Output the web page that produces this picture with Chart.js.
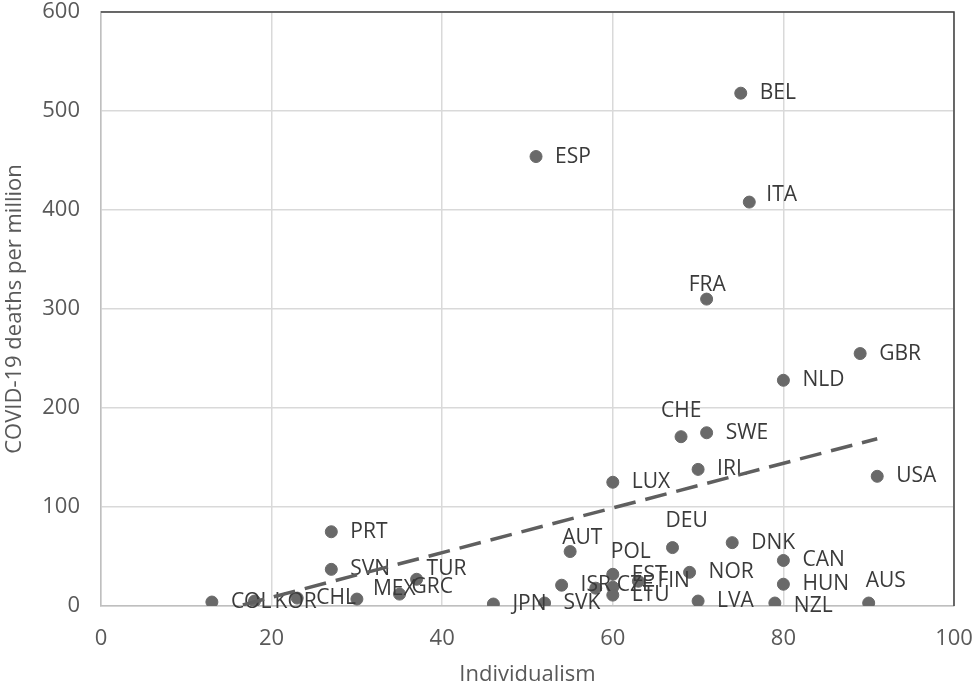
<!DOCTYPE html>
<html>
<head>
<meta charset="utf-8">
<script src="https://cdn.jsdelivr.net/npm/chart.js@4"></script>
<style>
  html, body { margin: 0; padding: 0; background: #fff; }
  #wrap { width: 976px; height: 687px; }
</style>
</head>
<body>
<div id="wrap"><canvas id="chart" width="976" height="687"></canvas></div>
<script>
// Datos
const countries = ['COL', 'KOR', 'CHL', 'MEX', 'GRC', 'TUR', 'PRT', 'SVN', 'JPN', 'SVK',
  'ISR', 'AUT', 'POL', 'CZE', 'EST', 'LTU', 'FIN', 'NOR', 'DEU', 'DNK',
  'CAN', 'HUN', 'LVA', 'NZL', 'AUS', 'BEL', 'ESP', 'ITA', 'FRA', 'GBR',
  'NLD', 'CHE', 'SWE', 'IRL', 'LUX', 'USA'];
const individualism = [13, 18, 23, 30, 35, 37, 27, 27, 46, 52,
  54, 55, 60, 58, 60, 60, 63, 69, 67, 74,
  80, 80, 70, 79, 90, 75, 51, 76, 71, 89,
  80, 68, 71, 70, 60, 91];
const deaths = [4, 5, 8, 7, 12, 27, 75, 37, 2, 3,
  21, 55, 32, 18, 19, 11, 25, 34, 59, 64,
  46, 22, 5, 3, 3, 518, 454, 408, 310, 255,
  228, 171, 175, 138, 125, 131];

// Linea de tendencia (extremos)
const trendX = [13, 91];
const trendY = [-7, 169];

const xTicks = [0, 20, 40, 60, 80, 100];
const yTicks = [0, 100, 200, 300, 400, 500, 600];

// Desplazamiento de cada etiqueta respecto al punto (px)
const labelOffset = {
  ITA: [17, -7], FRA: [-18, -14], CHE: [-20, -26], TUR: [10, -10],
  MEX: [16, -10], GRC: [12, -7], KOR: [20, 1], AUT: [-8, -14],
  POL: [-2, -22], DEU: [-7, -27], AUS: [-3, -22], EST: [19, -12],
  CZE: [21, -3], NZL: [19, 3]
};

const FONT = '"Open Sans", "DejaVu Sans", sans-serif';
const SCATTER = 1;

const labelPlugin = {
  id: 'pointLabels',
  afterDatasetDraw(chart, args) {
    if (args.index !== SCATTER) return;
    const ctx = chart.ctx;
    const meta = chart.getDatasetMeta(SCATTER);
    ctx.save();
    ctx.font = '21px ' + FONT;
    ctx.fillStyle = '#3a3a3a';
    ctx.textAlign = 'left';
    ctx.textBaseline = 'middle';
    meta.data.forEach((pt, i) => {
      const off = labelOffset[countries[i]] || [19, 0];
      ctx.fillText(countries[i], pt.x + off[0], pt.y + off[1]);
    });
    ctx.restore();
  }
};

const framePlugin = {
  id: 'frame',
  afterDraw(chart) {
    const a = chart.chartArea;
    const ctx = chart.ctx;
    ctx.save();
    ctx.strokeStyle = '#404040';
    ctx.lineWidth = 1.5;
    ctx.beginPath();
    ctx.moveTo(a.left, a.top);
    ctx.lineTo(a.right, a.top);
    ctx.lineTo(a.right, a.bottom);
    ctx.stroke();
    ctx.restore();
  }
};

new Chart(document.getElementById('chart'), {
  type: 'scatter',
  data: {
    datasets: [
      {
        label: 'Trend',
        data: trendX.map((x, i) => ({ x: x, y: trendY[i] })),
        showLine: true,
        borderColor: '#5f5f5f',
        borderWidth: 3.5,
        borderDash: [22, 10],
        pointRadius: 0,
        fill: false
      },
      {
        label: 'Countries',
        data: individualism.map((x, i) => ({ x: x, y: deaths[i] })),
        backgroundColor: '#696969',
        borderColor: '#696969',
        borderWidth: 1,
        pointRadius: 6,
        pointHoverRadius: 6
      }
    ]
  },
  options: {
    responsive: false,
    animation: false,
    layout: { padding: { top: 12, right: 22, left: 0, bottom: 0 } },
    plugins: {
      legend: { display: false },
      tooltip: { enabled: false }
    },
    scales: {
      x: {
        type: 'linear',
        min: 0,
        max: 100,
        afterBuildTicks: s => { s.ticks = xTicks.map(v => ({ value: v })); },
        afterFit: s => { s.height = 81; s.paddingLeft = 0; s.paddingRight = 0; },
        grid: { color: '#d9d9d9', lineWidth: 1.5, drawTicks: false },
        border: { color: '#bfbfbf', width: 1.5 },
        ticks: { color: '#595959', font: { family: FONT, size: 22 }, padding: 20, maxRotation: 0 },
        title: {
          display: true,
          text: 'Individualism',
          color: '#595959',
          font: { family: FONT, size: 22 },
          padding: { top: 0, bottom: -1 }
        }
      },
      y: {
        type: 'linear',
        min: 0,
        max: 600,
        afterBuildTicks: s => { s.ticks = yTicks.map(v => ({ value: v })); },
        afterFit: s => { s.width = 101; s.paddingTop = 0; s.paddingBottom = 0; },
        grid: { color: '#d9d9d9', lineWidth: 1.5, drawTicks: false },
        border: { color: '#bfbfbf', width: 1.5 },
        ticks: { color: '#595959', font: { family: FONT, size: 22 }, padding: 21 },
        title: {
          display: true,
          text: 'COVID-19 deaths per million',
          color: '#595959',
          font: { family: FONT, size: 22 },
          padding: { top: 2, bottom: 0 }
        }
      }
    }
  },
  plugins: [labelPlugin, framePlugin]
});
</script>
</body>
</html>
